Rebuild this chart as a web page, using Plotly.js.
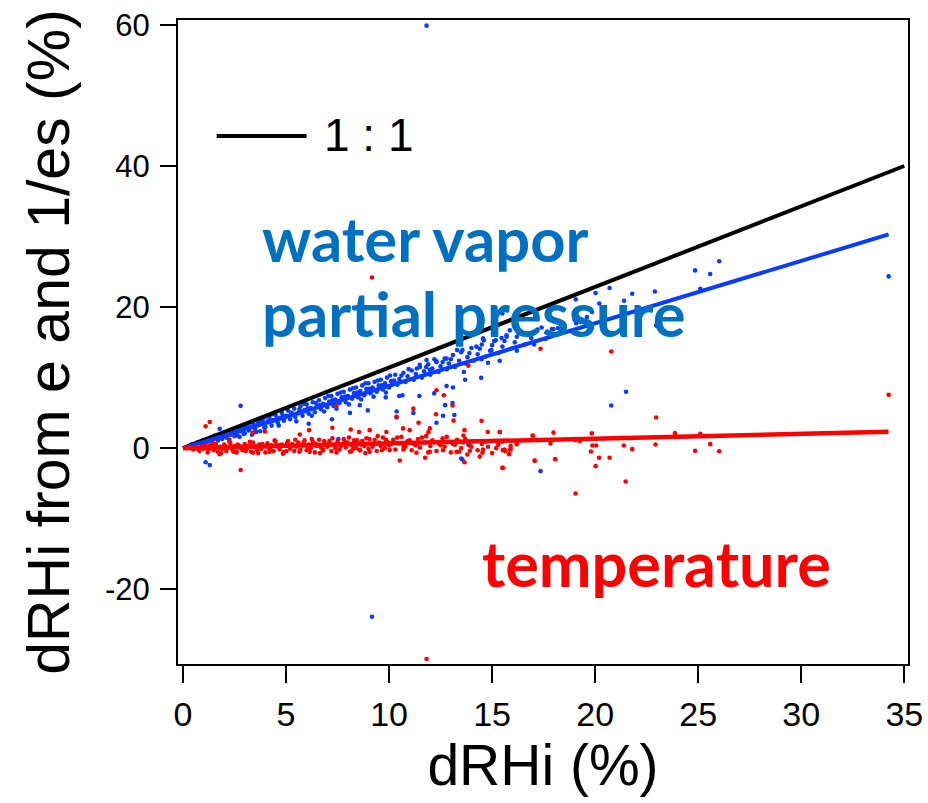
<!DOCTYPE html>
<html>
<head>
<meta charset="utf-8">
<script src="https://cdn.plot.ly/plotly-3.0.1.min.js"></script>
<style>html,body{margin:0;padding:0;background:#fff;}#plot{width:928px;height:803px;}</style>
</head>
<body>
<div id="plot"></div>
<script>
// ---- data ----
// water vapour partial pressure contribution (blue)
const blueX = [0.4,0.6,0.7,0.9,1.0,1.1,1.2,1.3,1.4,1.5,1.6,1.7,1.8,1.9,2.0,2.1,2.2,2.25,2.3,2.4,2.5,2.6,2.7,2.75,2.8,2.9,3.0,3.05,3.1,3.2,3.3,3.35,3.4,3.5,3.6,3.7,3.75,3.8,3.9,4.0,4.1,4.2,4.3,4.4,4.5,4.6,4.7,4.8,4.9,5.0,5.1,5.2,5.3,5.4,5.5,5.6,5.7,5.8,5.9,6.0,6.1,6.2,6.3,6.4,6.5,6.6,6.7,6.8,6.9,7.0,7.1,7.2,7.3,7.4,7.5,7.6,7.7,7.8,7.9,8.0,8.1,8.2,8.3,8.4,8.5,8.6,8.7,8.8,8.9,9.0,9.1,9.2,9.3,9.4,9.5,9.6,9.7,9.8,9.9,10.0,10.1,10.3,10.4,10.5,10.7,10.8,10.9,11.1,11.2,11.3,11.5,11.6,11.7,11.9,12.0,12.1,12.3,12.4,12.5,12.7,12.8,12.9,13.1,13.2,13.4,13.5,13.7,13.8,14.0,14.1,14.3,14.5,14.7,14.9,15.1,15.3,15.5,15.7,15.9,16.1,16.3,16.6,16.9,17.2,17.6,18.0,18.4,18.8,19.3,
  11.82,9.17,34.24,26.02,24.85,25.58,25.1,20.02,20.7,21.8,22.9,19.06,20.2,21.4,19.85,19.08,22.96,17.98,17.04,16.2,15.37,20.78,21.5,17.35,2.8,1.1,1.3,13.85,13.56,14.47,13.69,13.63,13.1,12.72,13.08,13.17,12.62,12.3,12.19,11.47,12.79,11.18,10.37,10.37,10.49,10.65,9.84,8.97,8.1,7.23,6.1,7.54,8.58,1.78,13.5,14.56,14.24,14.49,13.56,12.79,12.3,11.82,11.49,11.98,15.18,15.46,15.7,15.86,14.6,15.5,14.5,17.9,14.8,14.97];
const blueY = [0.5,0.3,0.8,0.6,1.1,0.7,1.0,1.4,0.9,1.3,1.7,1.1,1.6,1.3,2.0,1.5,2.3,1.2,1.9,2.5,1.7,2.2,2.9,1.6,2.4,3.1,2.1,2.8,3.3,2.5,3.0,1.9,3.6,2.7,3.3,3.9,2.4,3.5,4.2,3.0,3.8,4.4,3.2,4.0,4.7,3.6,4.3,5.0,3.9,4.6,5.3,4.1,4.9,5.6,3.8,5.0,5.9,4.6,5.4,6.2,4.9,5.7,6.5,5.1,6.0,6.8,5.5,6.3,7.1,5.8,6.6,7.4,6.0,6.9,7.7,6.4,7.2,8.0,6.5,7.4,8.3,7.0,7.8,8.6,7.2,8.1,8.9,7.5,8.4,9.2,7.8,8.6,9.4,8.0,8.9,9.7,8.3,9.2,10.0,8.6,9.5,10.4,9.0,9.8,10.7,9.4,10.2,11.0,9.7,10.5,11.5,10.0,10.9,11.9,10.4,11.3,12.3,10.8,11.6,12.7,11.2,12.0,13.2,11.5,12.4,13.6,12.0,12.9,14.2,12.4,13.3,14.7,13.0,13.8,15.2,13.5,14.4,15.8,14.1,15.0,16.3,14.7,15.6,16.8,15.5,16.1,17.4,16.6,17.9,
  59.9,-23.9,24.35,26.5,25.2,24.7,22.6,22.0,22.7,21.9,22.2,21.1,20.5,20.9,19.3,17.7,17.4,16.9,14.7,13.8,12.4,6.05,8.0,-3.26,6.0,-2.0,-2.4,0.5,-1.6,9.97,9.7,10.8,8.6,6.1,6.4,4.7,4.6,3.6,7.76,7.4,8.8,5.0,5.2,4.35,7.4,7.5,7.2,5.35,5.0,4.1,3.45,1.28,6.1,2.74,-1.46,15.56,14.4,12.6,13.9,12.7,12.2,12.5,11.8,11.1,15.3,15.6,16.0,16.7,15.3,19.1,17.2,16.9,12.1,13.9];
const blueX2 = [0.5,0.8,1.15,1.35,1.55,1.75,1.95,2.15,2.35,2.55,2.65,2.85,2.95,3.15,3.25,3.45,3.55,3.65,3.85,3.95,4.05,4.25,4.35,4.55,4.65,4.85,5.05,5.25,5.45,5.65,5.85,6.05,6.25,6.45,6.65,6.85,7.05,7.25,7.45,7.65,7.85,8.05,8.25,8.45,8.65,8.85,9.05,9.25,9.45,9.65,9.85,10.05,10.25,10.6,10.95,11.35,11.8,12.2,12.6,13.0,13.3,13.9,14.4,15.0,15.6,16.2,16.8,17.4,18.2,19.0,19.6];
const blueY2 = [0.6,0.9,1.3,1.2,1.8,1.5,2.2,1.9,2.6,2.4,1.8,2.7,2.0,2.9,3.6,3.2,2.3,3.7,3.8,2.9,4.5,3.9,4.8,4.2,3.2,4.6,5.6,5.0,4.4,5.5,6.3,5.6,4.6,6.4,6.1,5.2,7.4,6.8,5.6,7.9,7.3,6.2,8.5,7.9,6.9,9.2,8.4,7.3,9.6,8.9,7.9,10.3,9.6,10.3,11.2,11.3,11.5,12.6,12.2,12.6,13.9,13.5,14.1,14.6,15.2,15.8,16.3,17.1,17.0,18.2,18.6];

// temperature contribution (red)
const redX = [0.3,0.5,0.6,0.8,0.9,1.0,1.1,1.2,1.3,1.4,1.5,1.6,1.7,1.8,1.9,2.0,2.1,2.2,2.3,2.4,2.5,2.6,2.7,2.8,2.9,3.0,3.1,3.2,3.3,3.4,3.5,3.6,3.7,3.8,3.9,4.0,4.1,4.2,4.3,4.4,4.5,4.6,4.7,4.8,4.9,5.0,5.1,5.2,5.3,5.4,5.5,5.6,5.7,5.8,5.9,6.0,6.1,6.2,6.3,6.4,6.5,6.6,6.7,6.8,6.9,7.0,7.1,7.2,7.3,7.4,7.5,7.6,7.7,7.8,7.9,8.0,8.1,8.2,8.3,8.4,8.5,8.6,8.7,8.8,8.9,9.0,9.1,9.2,9.3,9.4,9.5,9.6,9.7,9.8,9.9,10.0,10.2,10.3,10.5,10.6,10.8,10.9,11.1,11.2,11.4,11.5,11.7,11.8,12.0,12.1,12.3,12.4,12.6,12.7,12.9,13.0,13.2,13.3,13.5,13.6,13.8,13.9,14.1,14.3,14.5,14.8,15.0,15.3,15.6,15.9,
  9.17,11.82,34.24,24.85,25.58,26.02,23.87,25.1,17.35,20.78,22.96,15.37,16.98,17.98,19.84,16.2,17.83,19.05,19.26,19.87,20.05,21.39,22.93,15.52,15.65,15.83,15.9,19.8,20.19,20.7,21.8,17.07,18.06,20.02,15.52,21.48,19.05,
  13.85,12.3,12.66,11.18,10.36,12.28,13.08,13.13,11.43,7.45,3.98,1.3,1.1,2.8,10.52,11.75,13.66,15.5,17.06,14.53,15.86,13.66,14.49,14.79,15.37,13.61,16.96,8.14,8.54,9.06,9.87,11.0,11.98,11.91,10.68,7.25,6.12,5.67,3.4,2.27,0.97,9.06,8.58,8.17,6.8,6.15,5.02,4.2,3.4,2.6,1.78,11.33,11.98,12.62,13.27,13.92,14.56,10.03,10.7];
const redY = [0.1,-0.2,0.3,-0.4,0.5,-0.1,0.2,-0.6,0.4,0.0,-0.3,0.6,-0.5,0.2,-0.1,0.5,-0.4,0.1,0.7,-0.2,0.3,-0.6,0.4,0.0,-0.3,0.6,-0.1,0.3,-0.5,0.8,0.1,-0.3,0.5,-0.1,0.3,-0.6,0.7,0.0,0.4,-0.4,0.9,0.2,-0.2,0.5,-0.5,0.3,1.0,-0.1,0.6,-0.4,0.2,0.8,-0.2,0.4,1.1,-0.3,0.5,0.0,0.9,-0.6,0.3,1.2,0.1,-0.3,0.7,0.2,1.0,-0.4,0.5,0.0,0.9,-0.2,0.6,1.3,0.1,0.8,-0.5,0.4,1.1,0.0,0.7,-0.3,1.0,0.3,1.4,-0.1,0.6,0.2,1.2,-0.4,0.8,0.3,1.5,0.0,0.9,0.4,1.2,-0.2,0.7,1.6,0.2,1.0,-0.3,0.6,1.3,0.1,0.8,1.7,0.3,1.1,-0.4,0.7,1.4,0.2,0.9,-0.6,0.5,1.2,0.0,0.8,-0.9,0.4,1.0,-0.3,0.6,0.2,-0.7,0.5,-0.2,0.3,
  24.2,-29.9,7.56,-0.38,0.57,-0.43,2.13,2.03,14.1,13.7,4.35,2.3,1.75,2.2,2.1,0.57,0.66,1.13,1.0,0.38,0.38,0.38,0.52,-0.28,-0.43,-0.85,-0.14,-0.47,-1.37,-1.37,-0.14,-1.8,-1.56,-2.55,-2.8,-4.73,-6.43,
  11.7,8.2,7.5,5.6,4.45,4.8,6.05,3.9,3.6,6.05,2.37,3.7,3.1,-3.1,-1.75,-1.37,-2.0,-2.8,-1.75,-0.66,-0.2,2.55,3.87,2.3,2.3,1.8,1.8,2.65,2.3,2.55,2.3,2.55,2.8,2.27,2.8,2.9,2.55,1.94,2.2,1.85,1.14,-0.52,-0.28,-0.43,-0.28,-0.52,-0.43,-0.52,-0.66,-0.52,-0.85,-0.66,-0.52,-0.28,-0.52,-0.38,-0.19,-0.28,-0.19];
const redX2 = [0.4,0.7,1.05,1.25,1.45,1.65,1.85,2.05,2.25,2.45,2.65,2.85,3.05,3.25,3.45,3.65,3.85,4.05,4.25,4.45,4.65,4.85,5.05,5.25,5.45,5.65,5.85,6.05,6.25,6.45,6.65,6.85,7.05,7.25,7.45,7.65,7.85,8.05,8.25,8.45,8.65,8.85,9.05,9.25,9.45,9.65,9.85,10.1,10.4,10.7,11.0,11.3,11.6,11.9,12.2,12.5,12.8,13.1,13.4,13.7,14.0,14.4,14.7,15.2,15.5];
const redY2 = [0.3,-0.1,0.4,-0.2,0.7,0.1,-0.7,0.3,0.9,-0.5,0.5,0.2,-0.4,0.9,0.3,-0.7,0.6,0.2,-0.3,1.1,0.4,-0.8,0.7,0.3,1.2,-0.5,0.8,0.2,1.3,0.6,-0.7,1.0,0.4,1.4,-0.6,0.3,0.9,1.5,-0.1,1.1,0.5,-0.7,1.3,0.6,1.7,-0.3,1.2,0.6,1.5,0.3,1.1,0.4,1.5,-0.6,0.9,0.4,1.6,0.6,-0.5,1.3,0.2,-1.2,0.9,0.0,0.9];

// reference and fitted lines
const oneX = [0, 35];
const oneY = [0, 40];
const fitX = [0, 34.24];
const blueFitY = [0, 30.3];
const redFitY = [0, 2.31];

const yTicks = [-20, 0, 20, 40, 60];
const yTickText = ['-20', '0', '20', '40', '60'];
const xTicks = [0, 5, 10, 15, 20, 25, 30, 35];

const BLUE = '#0a3cff';
const RED = '#ff0000';

const traces = [
  {x: blueX.concat(blueX2), y: blueY.concat(blueY2), type: 'scatter', mode: 'markers', marker: {color: BLUE, size: 4.6}, hoverinfo: 'skip'},
  {x: redX.concat(redX2), y: redY.concat(redY2), type: 'scatter', mode: 'markers', marker: {color: RED, size: 4.6}, hoverinfo: 'skip'},
  {x: oneX, y: oneY, type: 'scatter', mode: 'lines', line: {color: '#000', width: 4}},
  {x: fitX, y: blueFitY, type: 'scatter', mode: 'lines', line: {color: BLUE, width: 4}},
  {x: fitX, y: redFitY, type: 'scatter', mode: 'lines', line: {color: RED, width: 4.5}}
];

const axisFont = 'Liberation Sans, Arial, sans-serif';
const layout = {
  width: 928, height: 803,
  margin: {l: 178, r: 20, t: 20, b: 139},
  paper_bgcolor: '#fff', plot_bgcolor: '#fff',
  showlegend: false,
  font: {family: axisFont, color: '#000'},
  xaxis: {
    range: [-0.24, 35.18], tickvals: xTicks, showgrid: false, zeroline: false,
    showline: true, mirror: true, linecolor: '#000', linewidth: 2,
    ticks: 'outside', ticklen: 17, tickwidth: 2, tickcolor: '#000',
    tickfont: {size: 34, family: axisFont}, ticklabelstandoff: 2,
    title: {text: 'dRHi (%)', font: {size: 57, family: axisFont}, standoff: 6}
  },
  yaxis: {
    range: [-30.6, 60.7], tickvals: yTicks, ticktext: yTickText, showgrid: false, zeroline: false,
    showline: true, mirror: true, linecolor: '#000', linewidth: 2,
    ticks: 'outside', ticklen: 16, tickwidth: 2, tickcolor: '#000',
    tickfont: {size: 31, family: axisFont}, ticklabelstandoff: 4,
    title: {text: 'dRHi from e and 1/es (%)', font: {size: 59, family: axisFont}, standoff: 16}
  },
  shapes: [
    {type: 'line', xref: 'paper', yref: 'paper', x0: 0.053, x1: 0.1763, y0: 0.8199, y1: 0.8199, line: {color: '#000', width: 4}}
  ],
  annotations: [
    {text: '1 : 1', xref: 'paper', yref: 'paper', x: 0.2616, y: 0.8214, xanchor: 'center', yanchor: 'middle', showarrow: false, font: {size: 46, family: axisFont, color: '#000'}},
    {text: '<b>water vapor</b>', xref: 'paper', yref: 'paper', x: 0.112, y: 0.6615, xanchor: 'left', yanchor: 'middle', showarrow: false, font: {size: 61.5, family: 'Lato, sans-serif', color: '#0070c0'}},
    {text: '<b>partial pressure</b>', xref: 'paper', yref: 'paper', x: 0.112, y: 0.545, xanchor: 'left', yanchor: 'middle', showarrow: false, font: {size: 61.5, family: 'Lato, sans-serif', color: '#0070c0'}},
    {text: '<b>temperature</b>', xref: 'paper', yref: 'paper', x: 0.414, y: 0.157, xanchor: 'left', yanchor: 'middle', showarrow: false, font: {size: 63, family: 'Lato, sans-serif', color: '#ff0000'}}
  ]
};

Plotly.newPlot('plot', traces, layout, {displayModeBar: false, staticPlot: true});
</script>
</body>
</html>
